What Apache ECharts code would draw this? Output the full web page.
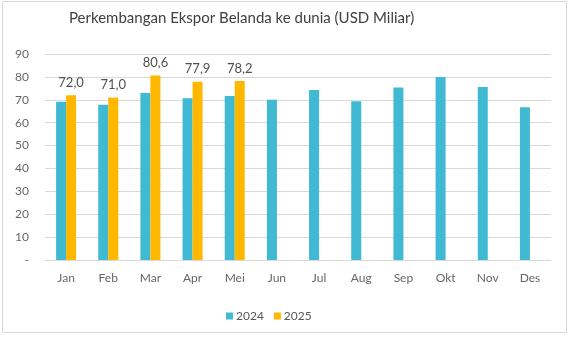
<!DOCTYPE html>
<html><head><meta charset="utf-8">
<script src="https://cdn.jsdelivr.net/npm/echarts@6/dist/echarts.min.js"></script>
<style>html,body{margin:0;padding:0;background:#fff}#c{width:570px;height:337px}</style>
</head><body><div id="c"></div>
<script>
const categories = ['Jan','Feb','Mar','Apr','Mei','Jun','Jul','Aug','Sep','Okt','Nov','Des'];
const seriesNames = ['2024','2025'];
const values2024 = [69.1, 67.8, 73.0, 70.7, 71.7, 70.0, 74.3, 69.4, 75.4, 80.0, 75.6, 66.7];
const values2025 = [72.0, 71.0, 80.6, 77.9, 78.2];
const yTicks = [0,10,20,30,40,50,60,70,80,90];
const titleText = 'Perkembangan Ekspor Belanda ke dunia (USD Miliar)';

const FONT = 'Lato';
const chart = echarts.init(document.getElementById('c'), null, {renderer:'canvas'});
chart.setOption({
  animation:false,
  backgroundColor:'#fff',
  graphic:[{type:'rect', shape:{x:2.5,y:1.5,width:564,height:331}, style:{fill:'none', stroke:'#d9d9d9', lineWidth:1}, silent:true}],
  title:{text:titleText, left:64, top:6, textStyle:{fontFamily:FONT, fontSize:15, fontWeight:'normal', color:'#404040'}},
  legend:{data:seriesNames, left:221, top:305, itemWidth:7, itemHeight:7, itemGap:10, icon:'rect',
    textStyle:{fontFamily:FONT, fontSize:12, color:'#595959', padding:[0,0,0,-2]}},
  grid:{left:45, right:19, top:54, bottom:77, containLabel:false},
  xAxis:{type:'category', data:categories, axisTick:{show:false},
    axisLine:{lineStyle:{color:'#d9d9d9', width:1}},
    axisLabel:{fontFamily:FONT, fontSize:12, color:'#666666', margin:12}},
  yAxis:{type:'value', min:0, max:90, interval:10,
    axisLine:{show:false}, axisTick:{show:false},
    splitLine:{lineStyle:{color:'#d9d9d9', width:1}},
    axisLabel:{fontFamily:FONT, fontSize:12, color:'#666666', margin:16,
      formatter:v=> yTicks.indexOf(v) === 0 ? '-' : String(v)}},
  series:[
    {name:seriesNames[0], type:'bar', data:values2024, barWidth:10, barGap:'0%', itemStyle:{color:'#40B9D3'}},
    {name:seriesNames[1], type:'bar', data:values2025, barWidth:10, itemStyle:{color:'#FFB700'},
      label:{show:true, position:'top', distance:6, fontFamily:FONT, fontSize:13, color:'#505050',
        formatter:p=>p.value.toFixed(1).replace('.',',')}}
  ]
});
</script></body></html>
